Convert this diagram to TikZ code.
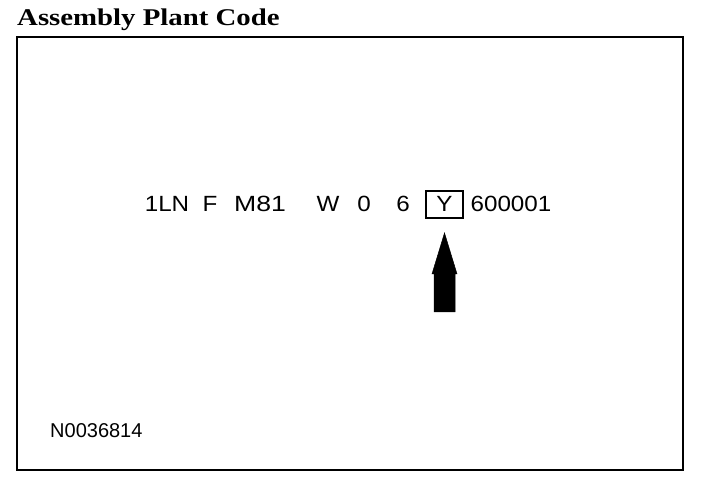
\documentclass[tikz,border=0pt]{standalone}
\usepackage{fontspec}
\setmainfont{Liberation Sans}
\newfontfamily\titlefont{Liberation Serif}
\begin{document}
\begin{tikzpicture}[x=1pt,y=-1pt,
  code/.style={font=\fontsize{22}{22}\selectfont, inner sep=0pt, anchor=base, xscale=1.1},
  frame/.style={line width=2.5pt},
  markbox/.style={draw, line width=1.6pt, minimum width=37pt, minimum height=27pt, inner sep=0pt},
  bigarrow/.style={fill=black, draw=black, line width=0.5pt}]
\useasboundingbox (0,0) rectangle (704,486);
\draw[frame] (17,37) rectangle (683,470);
\node[anchor=base west, inner sep=0pt, xscale=1.2, font=\titlefont\bfseries\fontsize{24}{24}\selectfont] (title) at (17,26) {Assembly Plant Code};
\node[code] (c1) at (167,212) {1LN};
\node[code] (c2) at (210,212) {F};
\node[code, xscale=1.1] (c3) at (260,212) {M81};
\node[code] (c4) at (328,212) {W};
\node[code] (c5) at (364,212) {0};
\node[code] (c6) at (403,212) {6};
\node[markbox] (ybox) at (444.5,204.5) {};
\node[code] (c7) at (444.5,212) {Y};
\node[code] (c8) at (511,212) {600001};
\draw[bigarrow] (444.5,233) -- (457,274) -- (455,274) -- (455,312) -- (434,312) -- (434,274) -- (432,274) -- cycle;
\node[anchor=base west, inner sep=0pt, font=\fontsize{20}{20}\selectfont] (fig) at (50,437) {N0036814};
\end{tikzpicture}
\end{document}
